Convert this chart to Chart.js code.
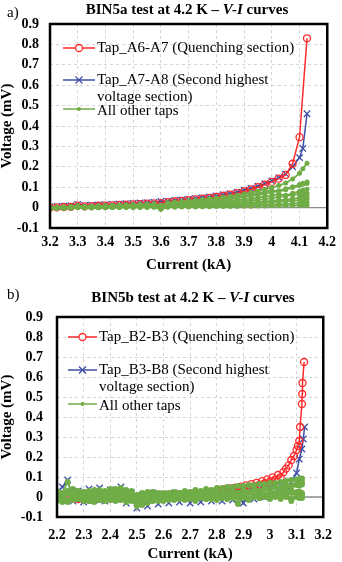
<!DOCTYPE html>
<html>
<head>
<meta charset="utf-8">
<script src="https://cdn.jsdelivr.net/npm/chart.js@4.4.1/dist/chart.umd.min.js"></script>
<style>
  html, body { margin: 0; padding: 0; background: #fff; }
  canvas { position: absolute; left: 0; }
</style>
</head>
<body>
<canvas id="chartA" width="342" height="280" style="top:0"></canvas>
<canvas id="chartB" width="342" height="282" style="top:280px"></canvas>
<script>
// ---------- BIN5a (kA / mV) ----------
const currentA = [3.200, 3.225, 3.250, 3.275, 3.300, 3.325, 3.350, 3.375, 3.400, 3.425,
  3.450, 3.475, 3.500, 3.525, 3.550, 3.575, 3.600, 3.625, 3.650, 3.675,
  3.700, 3.725, 3.750, 3.775, 3.800, 3.825, 3.850, 3.875, 3.900, 3.925,
  3.950, 3.975, 4.000, 4.025, 4.050, 4.075, 4.100, 4.112, 4.127];
const tapA6A7 = [0.000, 0.001, 0.003, 0.004, 0.010, 0.006, 0.007, 0.009, 0.010, 0.011,
  0.013, 0.014, 0.016, 0.017, 0.019, 0.021, 0.022, 0.027, 0.030, 0.033,
  0.037, 0.040, 0.044, 0.048, 0.053, 0.058, 0.064, 0.071, 0.080, 0.089,
  0.100, 0.112, 0.126, 0.142, 0.160, 0.215, 0.345, null, 0.830];
const tapA7A8 = [0.004, 0.006, 0.007, 0.009, 0.016, 0.011, 0.012, 0.013, 0.015, 0.016,
  0.018, 0.019, 0.021, 0.023, 0.024, 0.026, 0.030, 0.032, 0.035, 0.038,
  0.042, 0.045, 0.049, 0.053, 0.058, 0.063, 0.069, 0.076, 0.085, 0.094,
  0.105, 0.117, 0.131, 0.147, 0.165, 0.200, 0.245, 0.290, 0.460];
const otherTapsA = [
  [0.000, 0.002, 0.003, 0.004, 0.008, 0.006, 0.007, 0.008, 0.009, 0.010,
   0.012, 0.013, 0.014, 0.015, 0.017, 0.018, 0.010, 0.024, 0.027, 0.030,
   0.033, 0.036, 0.040, 0.043, 0.047, 0.051, 0.056, 0.061, 0.067, 0.074,
   0.081, 0.089, 0.098, 0.108, 0.120, 0.140, 0.168, 0.190, 0.218],
  [0.000, 0.001, 0.002, 0.003, 0.006, 0.004, 0.005, 0.006, 0.007, 0.008,
   0.009, 0.010, 0.011, 0.012, 0.013, 0.014, 0.006, 0.017, 0.019, 0.021,
   0.024, 0.026, 0.029, 0.032, 0.035, 0.038, 0.042, 0.046, 0.051, 0.056,
   0.062, 0.068, 0.075, 0.083, 0.092, 0.102, 0.113, 0.119, 0.125],
  [0.002, 0.003, 0.003, 0.004, 0.009, 0.005, 0.006, 0.007, 0.008, 0.008,
   0.010, 0.011, 0.012, 0.013, 0.014, 0.016, 0.004, 0.018, 0.020, 0.023,
   0.025, 0.028, 0.031, 0.034, 0.038, 0.042, 0.046, 0.051, 0.057, 0.063,
   0.070, 0.077, 0.085, 0.078, 0.088, 0.098, 0.108, 0.114, 0.118],
  [-0.002, 0.000, 0.001, 0.002, 0.005, 0.003, 0.004, 0.004, 0.005, 0.006,
   0.007, 0.007, 0.008, 0.009, 0.010, 0.011, 0.000, 0.013, 0.015, 0.016,
   0.018, 0.020, 0.022, 0.024, 0.027, 0.030, 0.033, 0.036, 0.040, 0.044,
   0.049, 0.054, 0.060, 0.066, 0.060, 0.070, 0.080, 0.085, 0.090],
  [-0.003, -0.002, 0.000, 0.001, 0.004, 0.002, 0.002, 0.003, 0.004, 0.004,
   0.005, 0.006, 0.006, 0.007, 0.008, 0.008, -0.004, 0.010, 0.011, 0.012,
   0.014, 0.015, 0.017, 0.019, 0.021, 0.023, 0.026, 0.028, 0.031, 0.035,
   0.038, 0.042, 0.047, 0.052, 0.057, 0.062, 0.066, 0.068, 0.070],
  [-0.002, -0.001, 0.000, 0.001, 0.003, 0.001, 0.002, 0.002, 0.003, 0.003,
   0.004, 0.004, 0.005, 0.005, 0.006, 0.006, -0.005, 0.007, 0.008, 0.009,
   0.010, 0.011, 0.012, 0.013, 0.015, 0.016, 0.018, 0.020, 0.022, 0.024,
   0.027, 0.030, 0.033, 0.036, 0.039, 0.043, 0.048, 0.051, 0.055],
  [-0.004, -0.003, -0.002, -0.001, 0.002, 0.000, 0.001, 0.001, 0.002, 0.002,
   0.003, 0.003, 0.004, 0.004, 0.005, 0.005, -0.006, 0.006, 0.007, 0.007,
   0.008, 0.009, 0.010, 0.011, 0.012, 0.013, 0.015, 0.016, 0.018, 0.020,
   0.022, 0.024, 0.026, 0.029, 0.031, 0.034, 0.037, 0.039, 0.041],
  [-0.004, -0.004, -0.003, -0.002, 0.001, -0.001, 0.000, 0.000, 0.001, 0.001,
   0.001, 0.002, 0.002, 0.003, 0.003, 0.003, -0.007, 0.004, 0.004, 0.005,
   0.005, 0.006, 0.006, 0.007, 0.008, 0.008, 0.009, 0.010, 0.011, 0.012,
   0.013, 0.014, 0.015, 0.017, 0.018, 0.020, 0.022, 0.023, 0.025],
  [-0.005, -0.004, -0.004, -0.003, 0.000, -0.002, -0.002, -0.001, -0.001, 0.000,
   0.000, 0.000, 0.001, 0.001, 0.001, 0.002, -0.008, 0.002, 0.002, 0.003,
   0.003, 0.003, 0.004, 0.004, 0.005, 0.005, 0.006, 0.006, 0.007, 0.007,
   0.008, 0.008, 0.009, 0.009, 0.010, 0.010, 0.011, 0.011, 0.012]
];

// ---------- BIN5b (kA / mV) ----------
const currentB = [2.20, 2.22, 2.24, 2.26, 2.28, 2.30, 2.32, 2.34, 2.36, 2.38,
  2.40, 2.42, 2.44, 2.46, 2.48, 2.50, 2.52, 2.54, 2.56, 2.58,
  2.60, 2.62, 2.64, 2.66, 2.68, 2.70, 2.72, 2.74, 2.76, 2.78,
  2.80, 2.82, 2.84, 2.86, 2.88, 2.90, 2.92, 2.94, 2.96, 2.98,
  3.00, 3.02, 3.04, 3.06, 3.08, 3.10, 3.11, 3.12];
const currentBTail = [3.125, 3.130];
const currentB2B3 = [2.20, 2.22, 2.24, 2.26, 2.28, 2.30, 2.32, 2.34, 2.36, 2.38,
  2.40, 2.42, 2.44, 2.46, 2.48, 2.50, 2.52, 2.54, 2.56, 2.58,
  2.60, 2.62, 2.64, 2.66, 2.68, 2.70, 2.72, 2.74, 2.76, 2.78, 2.80,
  2.81, 2.82, 2.83, 2.84, 2.85, 2.86, 2.87, 2.88, 2.89, 2.90,
  2.91, 2.92, 2.93, 2.94, 2.95, 2.96, 2.97, 2.98, 2.99, 3.00,
  3.01, 3.02, 3.03, 3.04, 3.05, 3.06, 3.07, 3.08, 3.09, 3.10,
  3.105, 3.110, 3.113, 3.120, 3.121, 3.122, 3.128];
const tapB2B3 = [-0.005, -0.008, -0.010, -0.008, -0.010, -0.007, -0.009, -0.006, -0.008, -0.005,
  -0.006, -0.004, -0.005, -0.002, -0.003, 0.000, 0.002, 0.003, 0.005, 0.006,
  0.008, 0.010, 0.011, 0.013, 0.015, 0.017, 0.019, 0.021, 0.024, 0.027, 0.030,
  0.036, 0.029, 0.039, 0.032, 0.043, 0.035, 0.047, 0.039, 0.052, 0.043,
  0.058, 0.048, 0.064, 0.054, 0.071, 0.061, 0.079, 0.068, 0.088, 0.077,
  0.098, 0.087, 0.110, 0.098, 0.124, 0.142, 0.158, 0.185, 0.205, 0.235,
  0.255, 0.280, 0.350, 0.465, 0.515, 0.570, 0.675];
const tapB3B8 = [0.020, 0.050, 0.085, -0.020, 0.030, -0.025, 0.040, -0.015, 0.045, -0.020,
  0.035, -0.010, 0.050, -0.030, 0.020, -0.055, 0.010, -0.045, 0.020, -0.035,
  0.015, -0.030, 0.020, -0.025, 0.015, -0.030, 0.020, -0.025, 0.015, -0.020,
  0.020, -0.020, 0.025, -0.015, 0.030, -0.030, 0.035, -0.010, 0.040, 0.000,
  0.045, 0.010, 0.055, 0.030, 0.075, 0.120, 0.190, 0.240,
  0.290, 0.350];
const otherTapsB = [
  [0.000, 0.020, 0.075, 0.010, 0.025, 0.000, 0.030, 0.010, 0.035, 0.015,
   0.030, 0.020, 0.045, 0.010, 0.020, 0.005, 0.020, 0.010, 0.025, 0.015,
   0.020, 0.020, 0.025, 0.020, 0.030, 0.025, 0.035, 0.030, 0.040, 0.035,
   0.045, 0.045, 0.050, 0.050, 0.055, 0.055, 0.060, 0.060, 0.065, 0.065,
   0.070, 0.070, 0.075, 0.080, 0.085, 0.088, 0.090, 0.093],
  [-0.015, 0.010, -0.020, 0.020, -0.010, 0.015, -0.020, 0.025, -0.010, 0.030,
   -0.015, 0.040, -0.005, 0.020, -0.020, -0.045, 0.000, -0.030, 0.010, -0.020,
   0.005, -0.015, 0.010, -0.010, 0.015, -0.010, 0.010, -0.005, 0.015, -0.010,
   0.010, -0.005, 0.015, 0.000, 0.010, -0.005, 0.020, 0.000, 0.015, 0.005,
   0.020, 0.000, 0.015, 0.030, 0.020, 0.010, 0.015, 0.012],
  [0.010, -0.025, 0.030, -0.015, 0.020, -0.020, 0.015, -0.010, 0.020, -0.020,
   0.010, -0.010, 0.025, -0.025, 0.005, -0.030, -0.010, 0.000, -0.020, 0.005,
   -0.015, 0.000, -0.010, 0.005, -0.010, 0.000, -0.020, 0.000, -0.010, 0.005,
   -0.015, 0.000, -0.010, -0.005, -0.035, 0.000, -0.010, 0.005, -0.005, 0.000,
   -0.010, 0.005, 0.000, 0.010, -0.010, 0.005, 0.000, -0.005],
  [-0.020, 0.000, -0.015, 0.005, -0.010, 0.000, -0.020, 0.010, -0.015, 0.005,
   -0.010, 0.000, -0.015, 0.010, -0.010, -0.020, 0.010, -0.010, 0.015, 0.000,
   0.010, -0.005, 0.015, 0.000, 0.010, 0.005, 0.015, 0.000, 0.020, 0.005,
   0.020, 0.010, 0.025, 0.010, 0.020, 0.015, 0.025, 0.010, 0.020, 0.015,
   0.030, 0.020, 0.025, 0.020, 0.030, 0.025, 0.028, 0.020],
  [0.030, -0.010, 0.020, 0.040, 0.000, 0.025, 0.005, 0.035, 0.000, 0.020,
   0.040, 0.005, 0.030, 0.000, 0.025, -0.010, 0.015, 0.025, -0.005, 0.020,
   0.000, 0.015, -0.005, 0.020, 0.000, 0.015, 0.005, 0.020, 0.005, 0.020,
   0.010, 0.025, 0.015, 0.030, 0.020, 0.035, 0.025, 0.040, 0.030, 0.045,
   0.040, 0.050, 0.045, 0.060, 0.055, 0.065, 0.070, 0.075],
  [-0.010, 0.015, -0.025, 0.000, 0.030, -0.015, 0.010, -0.025, 0.005, -0.010,
   0.020, -0.020, 0.005, -0.015, 0.030, -0.020, -0.040, 0.005, -0.015, 0.010,
   -0.020, 0.005, -0.015, 0.000, -0.015, 0.010, -0.010, 0.005, -0.010, 0.000,
   -0.005, 0.005, -0.010, 0.010, -0.005, 0.000, -0.015, 0.005, -0.005, 0.010,
   -0.005, 0.005, -0.010, 0.000, -0.020, 0.000, -0.005, 0.000],
  [0.015, 0.000, 0.020, -0.010, 0.010, 0.025, -0.005, 0.015, -0.015, 0.010,
   -0.005, 0.020, -0.010, 0.035, 0.000, 0.010, -0.015, 0.015, 0.000, 0.010,
   0.010, 0.000, 0.005, 0.010, 0.005, 0.020, 0.010, 0.015, 0.010, 0.025,
   0.015, 0.020, 0.015, 0.030, 0.020, 0.030, 0.025, 0.035, 0.030, 0.045,
   0.035, 0.050, 0.040, 0.055, 0.050, 0.060, 0.058, 0.062]
];

const RED = '#ff2a2a', BLUE = '#3f4ea6', GREEN = '#70ad47';
const SERIF = '"Liberation Serif", "Times New Roman", serif';

const pts = (xs, ys) => xs.map((x, i) => ({ x: x, y: ys[i] }));

function redSet(data) {
  return { data, borderColor: RED, borderWidth: 1.5, pointStyle: 'circle', pointRadius: 3.5,
    pointBorderColor: RED, pointBackgroundColor: 'rgba(255,255,255,0)', pointBorderWidth: 1.3,
    spanGaps: true, order: 2 };
}
function blueSet(data) {
  return { data, borderColor: BLUE, borderWidth: 1.5, pointStyle: 'crossRot', pointRadius: 4.5,
    pointBorderColor: BLUE, pointBorderWidth: 1.3, order: 3 };
}
function greenSet(data, r) {
  return { data, borderColor: GREEN, borderWidth: 1.8, pointStyle: 'circle', pointRadius: r,
    pointBorderColor: GREEN, pointBackgroundColor: GREEN, pointBorderWidth: 0, order: 1 };
}

function drawMarker(ctx, style, x, y, color) {
  ctx.strokeStyle = color; ctx.fillStyle = color; ctx.lineWidth = 1.3;
  ctx.beginPath();
  if (style === 'circle') { ctx.fillStyle = '#fff'; ctx.arc(x, y, 3.5, 0, Math.PI * 2); ctx.fill(); ctx.stroke(); }
  else if (style === 'cross') { ctx.moveTo(x - 3.5, y - 3.5); ctx.lineTo(x + 3.5, y + 3.5); ctx.moveTo(x + 3.5, y - 3.5); ctx.lineTo(x - 3.5, y + 3.5); ctx.stroke(); }
  else { ctx.arc(x, y, 2, 0, Math.PI * 2); ctx.fill(); }
}

// zero line, frame, title, panel letter and legend
const panelDecor = {
  id: 'panelDecor',
  beforeDatasetsDraw(chart) {
    const { ctx, chartArea: a, scales: { y } } = chart;
    const y0 = y.getPixelForValue(0);
    ctx.save();
    ctx.strokeStyle = '#8c8c8c'; ctx.lineWidth = 1.3;
    ctx.beginPath(); ctx.moveTo(a.left, y0); ctx.lineTo(a.right, y0); ctx.stroke();
    ctx.restore();
  },
  afterDraw(chart, args, o) {
    const { ctx, chartArea: a } = chart;
    ctx.save();
    ctx.strokeStyle = '#000'; ctx.lineWidth = 2.5;
    ctx.strokeRect(a.left, a.top, a.right - a.left, a.bottom - a.top);

    ctx.fillStyle = '#000'; ctx.textBaseline = 'middle'; ctx.textAlign = 'left';
    ctx.font = '15px ' + SERIF;
    ctx.fillText(o.letter, o.letterX, o.letterY);

    const fb = 'bold 15px ' + SERIF, fi = 'italic bold 15px ' + SERIF;
    ctx.font = fb; const w1 = ctx.measureText(o.title).width; const w3 = ctx.measureText(' curves').width;
    ctx.font = fi; const w2 = ctx.measureText('V-I').width;
    let x = o.titleX - (w1 + w2 + w3) / 2;
    ctx.font = fb; ctx.fillText(o.title, x, o.titleY); x += w1;
    ctx.font = fi; ctx.fillText('V-I', x, o.titleY); x += w2;
    ctx.font = fb; ctx.fillText(' curves', x, o.titleY);

    ctx.font = '15px ' + SERIF;
    o.legend.forEach(item => {
      ctx.strokeStyle = item.color; ctx.lineWidth = 1.5;
      ctx.beginPath(); ctx.moveTo(o.lx0, item.y); ctx.lineTo(o.lx1, item.y); ctx.stroke();
      drawMarker(ctx, item.marker, (o.lx0 + o.lx1) / 2, item.y, item.color);
      ctx.fillStyle = '#000';
      item.lines.forEach((t, i) => ctx.fillText(t, o.tx, item.textY + i * 17));
    });
    ctx.restore();
  }
};

const fmt = v => String(parseFloat(Number(v).toFixed(2)));

function makeOptions(c) {
  const tickFont = { family: SERIF, size: 14, weight: 'bold' };
  const titleFont = { family: SERIF, size: 15, weight: 'bold', lineHeight: 1 };
  return {
    responsive: false, animation: false,
    layout: { padding: { top: c.padTop, right: 9, left: 0, bottom: 0 } },
    elements: { line: { tension: 0 } },
    plugins: { legend: { display: false }, tooltip: { enabled: false }, panelDecor: c.decor },
    scales: {
      x: {
        type: 'linear', min: c.xMin, max: c.xMax,
        afterFit: s => { s.height = c.xHeight; },
        ticks: { stepSize: 0.1, padding: c.xTickPad, font: tickFont, color: '#000', maxRotation: 0, autoSkip: false, callback: fmt },
        grid: { color: '#d6d6d6', drawTicks: false },
        border: { display: false, dash: [3, 3] },
        title: { display: true, text: 'Current (kA)', font: titleFont, color: '#000', padding: { top: 0, bottom: c.xTitlePad } }
      },
      y: {
        min: -0.1, max: 0.9,
        afterFit: s => { s.width = c.yWidth; },
        ticks: { stepSize: 0.1, padding: c.yTickPad, font: tickFont, color: '#000', callback: fmt },
        grid: { color: '#d6d6d6', drawTicks: false },
        border: { display: false, dash: [3, 3] },
        title: { display: true, text: 'Voltage (mV)', font: titleFont, color: '#000', padding: 0 }
      }
    }
  };
}

new Chart(document.getElementById('chartA'), {
  type: 'line',
  data: {
    datasets: [
      redSet(pts(currentA, tapA6A7)),
      blueSet(pts(currentA, tapA7A8)),
      ...otherTapsA.map(v => greenSet(pts(currentA, v), 2.5))
    ]
  },
  options: makeOptions({
    padTop: 24, xMin: 3.2, xMax: 4.2, xHeight: 52, xTickPad: 6, xTitlePad: 7.5, yWidth: 50, yTickPad: 11,
    decor: {
      letter: 'a)', letterX: 7, letterY: 13, title: 'BIN5a test at 4.2 K \u2013 ', titleX: 187, titleY: 10,
      lx0: 63, lx1: 95, tx: 97,
      legend: [
        { color: RED, marker: 'circle', y: 48, textY: 48, lines: ['Tap_A6-A7 (Quenching section)'] },
        { color: BLUE, marker: 'cross', y: 80, textY: 80, lines: ['Tap_A7-A8 (Second highest', 'voltage section)'] },
        { color: GREEN, marker: 'dot', y: 109, textY: 111, lines: ['All other taps'] }
      ]
    }
  }),
  plugins: [panelDecor]
});

new Chart(document.getElementById('chartB'), {
  type: 'line',
  data: {
    datasets: [
      redSet(pts(currentB2B3, tapB2B3)),
      blueSet(pts(currentB.concat(currentBTail), tapB3B8)),
      ...otherTapsB.map(v => greenSet(pts(currentB, v), 3))
    ]
  },
  options: makeOptions({
    padTop: 37, xMin: 2.2, xMax: 3.2, xHeight: 45, xTickPad: 10, xTitlePad: 0, yWidth: 57, yTickPad: 14,
    decor: {
      letter: 'b)', letterX: 7, letterY: 15, title: 'BIN5b test at 4.2 K \u2013 ', titleX: 193, titleY: 18,
      lx0: 68, lx1: 97, tx: 99,
      legend: [
        { color: RED, marker: 'circle', y: 57, textY: 57, lines: ['Tap_B2-B3 (Quenching section)'] },
        { color: BLUE, marker: 'cross', y: 90, textY: 90, lines: ['Tap_B3-B8 (Second highest', 'voltage section)'] },
        { color: GREEN, marker: 'dot', y: 124, textY: 126, lines: ['All other taps'] }
      ]
    }
  }),
  plugins: [panelDecor]
});
</script>
</body>
</html>
